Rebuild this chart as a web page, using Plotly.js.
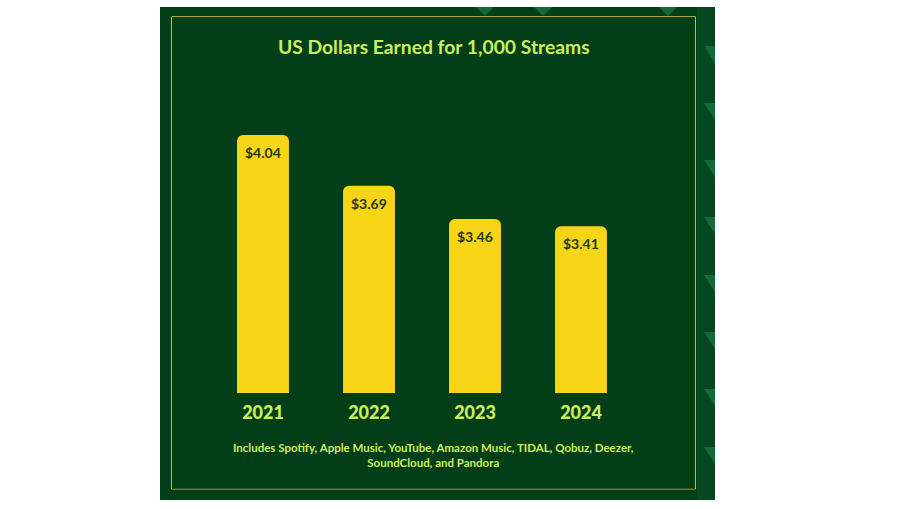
<!DOCTYPE html>
<html>
<head>
<meta charset="utf-8">
<script src="https://cdn.plot.ly/plotly-3.0.1.min.js"></script>
<style>html,body{margin:0;padding:0;background:#fff;}#chart{width:906px;height:509px;}</style>
</head>
<body>
<div id="chart"></div>
<script>
const years = ["2021", "2022", "2023", "2024"];
const dollarsPer1000 = [4.04, 3.69, 3.46, 3.41];
const valueLabels = ["$4.04", "$3.69", "$3.46", "$3.41"];
const chartTitle = "US Dollars Earned for 1,000 Streams";
const footnote = "Includes Spotify, Apple Music, YouTube, Amazon Music, TIDAL, Qobuz, Deezer,<br>SoundCloud, and Pandora";

const W = 906, H = 509;
const M = {l: 210, r: 272, t: 120, b: 116};
const PW = W - M.l - M.r, PH = H - M.t - M.b;
const px = x => (x - M.l) / PW;
const py = y => (H - M.b - y) / PH;

const panel = "#023f18";
const lime = "#cdee5c";
const yellow = "#f8d416";

const shapes = [
  {type: "rect", xref: "paper", yref: "paper", x0: px(160), x1: px(715), y0: py(500), y1: py(7),
   fillcolor: panel, line: {width: 0}, layer: "below"},
  {type: "rect", xref: "paper", yref: "paper", x0: px(697), x1: px(715), y0: py(500), y1: py(7),
   fillcolor: "#06481e", line: {width: 0}, layer: "below"}
];
[46, 103, 160, 217, 275, 332, 389, 447].forEach(t => {
  shapes.push({type: "path", xref: "paper", yref: "paper", layer: "below",
    path: `M ${px(704)} ${py(t)} L ${px(715)} ${py(t)} L ${px(715)} ${py(t + 17)} Z`,
    fillcolor: "#12693a", line: {width: 0}});
});
[485, 543, 668].forEach(c => {
  shapes.push({type: "path", xref: "paper", yref: "paper", layer: "below",
    path: `M ${px(c - 9)} ${py(7)} L ${px(c + 9)} ${py(7)} L ${px(c)} ${py(16)} Z`,
    fillcolor: "#12693a", line: {width: 0}});
});
shapes.push({type: "rect", xref: "paper", yref: "paper", x0: px(171.5), x1: px(695.5), y0: py(489), y1: py(16.7),
  fillcolor: "rgba(0,0,0,0)", line: {width: 1, color: "#c9b84c"}, layer: "below"});
shapes.push({type: "rect", xref: "paper", yref: "paper", x0: px(172), x1: px(695), y0: py(488.5), y1: py(17.2),
  fillcolor: panel, line: {width: 0}, layer: "below"});

const annotations = years.map((yr, i) => ({
  x: i, y: dollarsPer1000[i], xref: "x", yref: "y",
  text: "<b>" + valueLabels[i] + "</b>", showarrow: false, yanchor: "top", yshift: -7,
  font: {family: "Lato", size: 14, color: "#1c3a12"}
}));
annotations.push({
  xref: "paper", yref: "paper", x: px(433.5), y: py(455), xanchor: "center", yanchor: "middle",
  text: "<b>" + footnote.replace("<br>", "</b><br><b>") + "</b>", showarrow: false, align: "center",
  font: {family: "Lato", size: 11.5, color: lime}
});

const trace = {
  type: "bar", x: years, y: dollarsPer1000, width: 0.49,
  marker: {color: yellow, cornerradius: 6, line: {width: 0}},
  hoverinfo: "none"
};

const layout = {
  width: W, height: H, margin: M,
  paper_bgcolor: "#ffffff", plot_bgcolor: "rgba(0,0,0,0)",
  showlegend: false,
  title: {text: "<b>" + chartTitle + "</b>", xref: "container", yref: "container", x: 433.8 / W, y: 1 - 47.5 / H,
          xanchor: "center", yanchor: "middle",
          font: {family: "Lato", size: 19.3, color: lime}},
  xaxis: {type: "category", range: [-0.5, 3.5], showgrid: false, zeroline: false, showline: false,
          ticks: "", ticklabelstandoff: 7, tickfont: {family: "Lato", size: 18, color: lime, weight: 900}},
  yaxis: {range: [2.26, 2.26 + PH / 145], showgrid: false, zeroline: false, showline: false,
          showticklabels: false, ticks: ""},
  shapes: shapes, annotations: annotations
};

Plotly.newPlot("chart", [trace], layout, {displayModeBar: false, staticPlot: true});
</script>
</body>
</html>
